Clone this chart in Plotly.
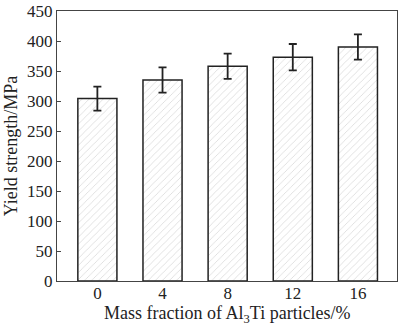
import plotly.graph_objects as go

categories = ["0", "4", "8", "12", "16"]
yield_strength = [304, 335, 358, 373, 390]
error = [20, 21, 21, 22, 21]
y_ticks = [0, 50, 100, 150, 200, 250, 300, 350, 400, 450]

FONT = "Liberation Serif, Times New Roman, serif"

fig = go.Figure()
fig.add_trace(go.Bar(
    x=list(range(len(categories))),
    y=yield_strength,
    width=0.6,
    marker=dict(
        color="white",
        line=dict(color="#222222", width=1.5),
        pattern=dict(shape="/", fgcolor="#b0b0b0", bgcolor="white", size=5, solidity=0.15),
    ),
    error_y=dict(type="data", array=error, visible=True, color="#222222", thickness=1.8, width=4),
))

fig.update_layout(
    width=400, height=326,
    margin=dict(l=57, r=2, t=5, b=45),
    paper_bgcolor="white", plot_bgcolor="white",
    font=dict(family=FONT, size=17, color="#222222"),
    showlegend=False,
    xaxis=dict(
        range=[-0.62, 4.6],
        tickmode="array", tickvals=list(range(len(categories))), ticktext=categories,
        showline=True, linecolor="#444444", linewidth=1.2, mirror=True,
        ticks="", showgrid=False, zeroline=False,
        ticklabelstandoff=-4,
        tickfont=dict(size=17),
    ),
    yaxis=dict(
        range=[0, 450],
        tickmode="array", tickvals=y_ticks,
        showline=True, linecolor="#444444", linewidth=1.2, mirror=True,
        ticks="inside", ticklen=4, tickcolor="#444444",
        ticklabeloverflow="allow",
        showgrid=False, zeroline=False,
        tickfont=dict(size=17),
        title=dict(text="Yield strength/MPa", standoff=4, font=dict(size=18)),
    ),
    annotations=[dict(
        text="Mass fraction of Al<sub>3</sub>Ti particles/%",
        x=0.5, xref="paper", y=0, yref="paper",
        xanchor="center", yanchor="top", yshift=-20,
        showarrow=False, font=dict(size=18),
    )],
)

fig.write_html("out.html")
